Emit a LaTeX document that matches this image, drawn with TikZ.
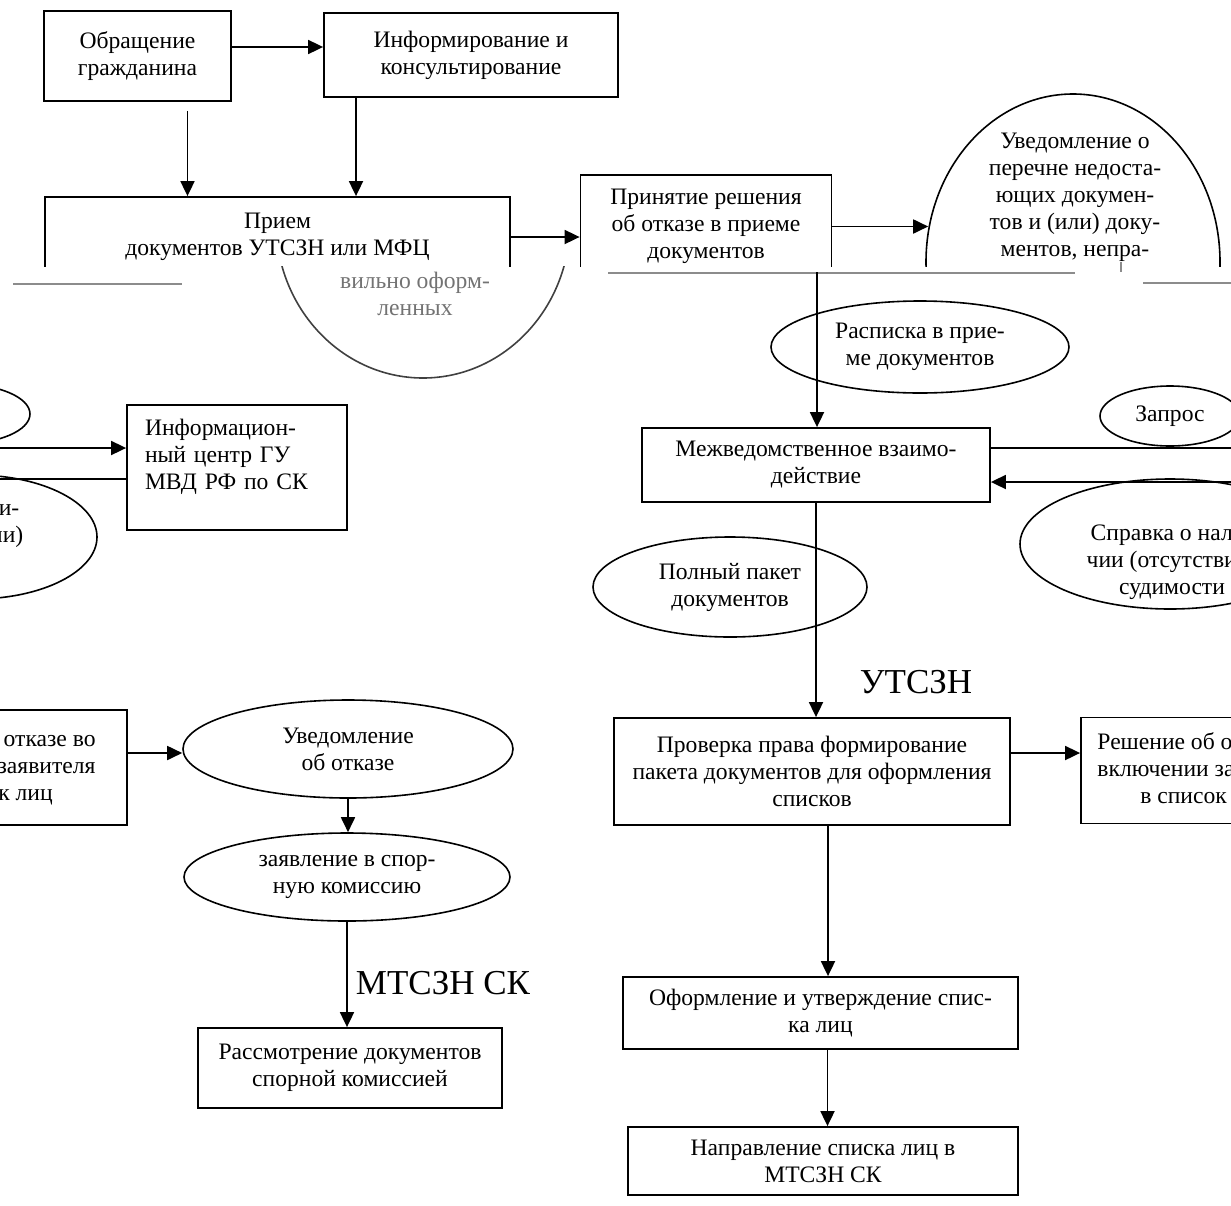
\documentclass[tikz,border=0pt]{standalone}
\usepackage{fontspec}
\setmainfont{Liberation Serif}
\usepackage{tikz}
\usetikzlibrary{shapes.geometric,arrows.meta}
\newcommand{\bodyfs}{\fontsize{11.8}{13.5}\selectfont}

\begin{document}
\begin{tikzpicture}[
    x=0.5pt, y=-0.5pt,
    box/.style={rectangle, draw, line width=0.9pt, align=center, inner sep=0pt, font=\bodyfs},
    oval/.style={ellipse, draw, line width=0.8pt, align=center, inner sep=0pt, font=\bodyfs},
    txt/.style={font=\bodyfs, align=center},
    note/.style={font=\fontsize{17.5}{20}\selectfont},
    arr/.style={-{Triangle[length=7.5pt,width=7pt]}, line width=0.9pt},
    link/.style={line width=0.9pt},
    seam/.style={draw=black!45, line width=0.8pt}
  ]
    \useasboundingbox (0,0) rectangle (1231,1205);
    \clip (0,0) rectangle (1231,1205);

    \begin{scope}
      \clip (0,0) rectangle (1231,266);
      \node[box, minimum width=93.5pt, minimum height=45pt] (obr) at (137.5,56) {Обращение\\гражданина};
      \node[box, minimum width=147pt, minimum height=42pt] (inf) at (471,55) {Информирование и\\консультирование};
      \node[box, minimum width=232.5pt, minimum height=40pt] (priem) at (277.5,237) {Прием\\документов УТСЗН или МФЦ};
      \node[box, minimum width=125.5pt, minimum height=51.5pt] (prin) at (706,226.5) {Принятие решения\\об отказе в приеме\\документов};
      \node[oval, minimum width=147pt, minimum height=168pt] (uv) at (1073,262) {};
      \node[txt] (uvtext) at (1075,197) {Уведомление о\\перечне недоста-\\ющих докумен-\\тов и (или) доку-\\ментов, непра-};
    \end{scope}
    \begin{scope}
      \clip (0,266) rectangle (1231,1205);
      \node[oval, minimum width=147pt, minimum height=156pt, draw=black!75] (uvlow) at (423,222) {};
    \end{scope}
    \node[txt, text=black!55] (uvtail) at (415,294) {вильно оформ-\\ленных};

    \draw[arr] ([yshift=4.5pt]obr.east) -- ([yshift=4.5pt]obr.east -| inf.west);
    \draw[arr] ([xshift=25pt,yshift=-4.5pt]obr.south) -- ([xshift=25pt]obr.south |- priem.north);
    \draw[arr] ([xshift=-57.5pt]inf.south) -- ([xshift=-57.5pt]inf.south |- priem.north);
    \draw[arr] (priem.east) -- (priem.east -| prin.west);
    \draw[arr] (prin.east) -- ([xshift=1.5pt]prin.east -| uv.west);

    \draw[seam] (13,284) -- (182,284);
    \draw[seam] (608,273) -- (1075,273);
    \draw[seam] (1143,283) -- (1231,283);
    \draw[seam] (1121,262) -- (1121,272);

    \node[oval, minimum width=149pt, minimum height=46pt] (rasp) at (920,347) {Расписка в прие-\\ме документов};
    \node[box, minimum width=174pt, minimum height=37pt] (mezh) at (816,465) {Межведомственное взаимо-\\действие};
    \node[oval, minimum width=70pt, minimum height=30pt] (zap) at (1170,416) {Запрос};
    \node[oval, minimum width=150pt, minimum height=65pt] (spr) at (1170,544) {};
    \node[txt] (sprtext) at (1172,562) {Справка о нали-\\чии (отсутствии)\\судимости};
    \node[oval, minimum width=137pt, minimum height=50pt] (poln) at (730,587) {Полный пакет\\документов};
    \node[note] (utszn) at (916,682) {УТСЗН};

    \coordinate (cut) at (817,272);
    \coordinate (zapout) at (1231,448);
    \coordinate (sprin) at (1231,482);
    \draw[arr] (cut) -- (cut |- mezh.north);
    \draw[link] (mezh.east |- zapout) -- (zapout);
    \draw[arr] (sprin) -- (sprin -| mezh.east);

    \node[box, minimum width=110pt, minimum height=62.5pt] (ic) at (237,467.5) {};
    \node[txt, align=left, text width=92pt] (ictext) at (237,457) {Информацион-\\ный центр ГУ\\МВД РФ по СК};
    \node[oval, minimum width=70pt, minimum height=30pt] (zapl) at (-40,414) {};
    \node[oval, minimum width=122pt, minimum height=62pt] (sprl) at (-25,537) {};
    \node[txt] (sprltext) at (-62,537) {Справка о нали-\\чии (отсутствии)\\судимости};
    \coordinate (icin) at (0,448);
    \coordinate (icout) at (0,479);
    \draw[arr] (icin) -- (icin -| ic.west);
    \draw[link] (ic.west |- icout) -- (icout);

    \node[box, minimum width=198pt, minimum height=53.5pt] (prov) at (812,771.5) {Проверка права формирование\\пакета документов для оформления\\списков};
    \node[box, minimum width=124pt, minimum height=53pt] (resh) at (1205,770.5) {Решение об отказе во\\включении заявителя\\в список лиц};
    \node[box, minimum width=139pt, minimum height=57.5pt] (reshl) at (-12,767.5) {Решение об отказе во\\включении заявителя\\в список лиц};
    \node[oval, minimum width=165pt, minimum height=49pt] (uvotk) at (348,749) {Уведомление\\об отказе};
    \node[oval, minimum width=163pt, minimum height=44pt] (zayav) at (347,877) {заявление в спор-\\ную комиссию};
    \node[note] (mtszn) at (443,983) {МТСЗН СК};
    \node[box, minimum width=152pt, minimum height=40pt] (rassm) at (350,1068) {Рассмотрение документов\\спорной комиссией};
    \node[box, minimum width=197.5pt, minimum height=36pt] (oform) at (820.5,1013) {Оформление и утверждение спис-\\ка лиц};
    \node[box, minimum width=195pt, minimum height=34pt] (napr) at (823,1161) {Направление списка лиц в\\МТСЗН СК};

    \draw[arr] (mezh.south) -- (mezh.south |- prov.north);
    \draw[arr] ([yshift=9.25pt]prov.east) -- ([yshift=9.25pt]prov.east -| resh.west);
    \draw[arr] ([yshift=7.25pt]reshl.east) -- ([yshift=7.25pt]reshl.east -| uvotk.west);
    \draw[arr] (uvotk.south) -- (uvotk.south |- zayav.north);
    \draw[arr] (zayav.south) -- (zayav.south |- rassm.north);
    \draw[arr] ([xshift=8pt]prov.south) -- ([xshift=8pt]prov.south |- oform.north);
    \draw[arr] ([xshift=3.5pt]oform.south) -- ([xshift=3.5pt]oform.south |- napr.north);
  \end{tikzpicture}
\end{document}
